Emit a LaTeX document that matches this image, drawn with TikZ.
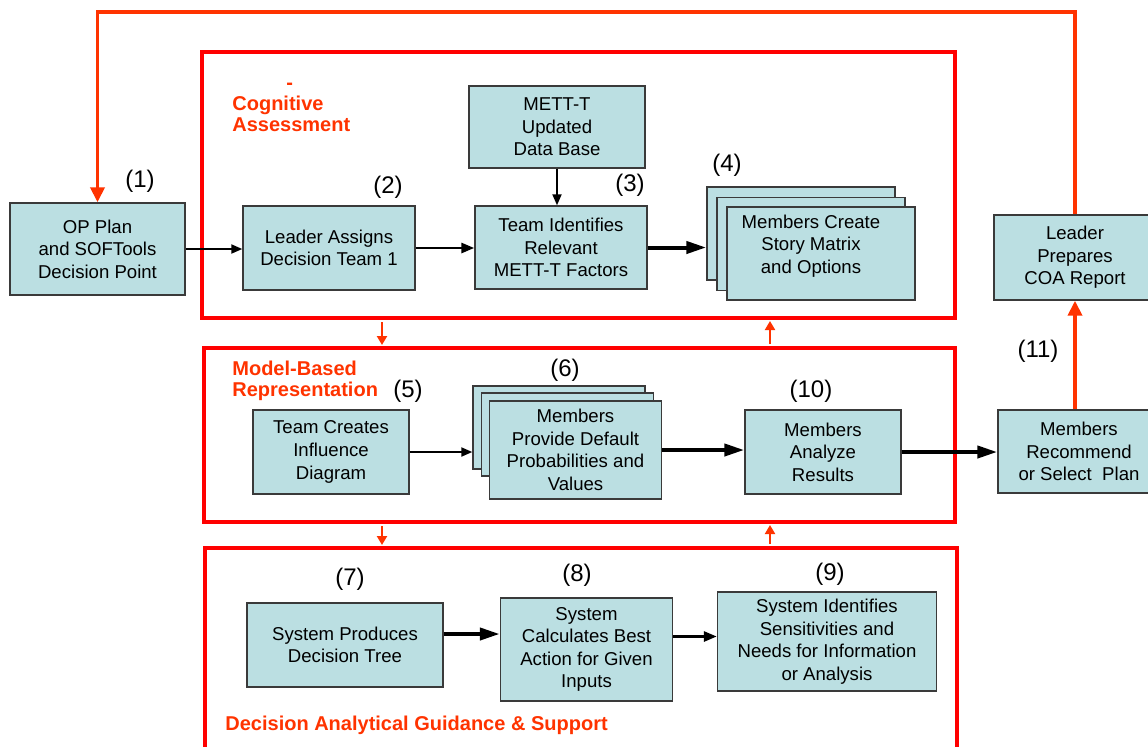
\documentclass[tikz,border=0pt]{standalone}
\usepackage{fontspec}
\setmainfont{Liberation Sans}
\usepackage{xcolor}
\usetikzlibrary{
  arrows.meta,
  positioning,
  calc
}
\definecolor{boxfill}{HTML}{BBDFE2}
\definecolor{boxline}{HTML}{3A3A3A}
\definecolor{framered}{HTML}{FF0000}
\definecolor{loopred}{HTML}{FF3300}
\tikzset{
  stepbox/.style={draw=boxline, line width=0.7pt, fill=boxfill,
    inner sep=0pt, align=center, font=\fontsize{9.3}{11.3}\selectfont},
  boxtext/.style={inner sep=0pt, align=center, font=\fontsize{9.3}{11.3}\selectfont},
  framebox/.style={draw=framered, line width=2pt, inner sep=0pt},
  numlabel/.style={inner sep=0pt, font=\fontsize{12}{14}\selectfont},
  phaselabel/.style={text=loopred, inner sep=0pt, align=left,
    font=\fontsize{10}{10.5}\selectfont\bfseries},
  arr/.style={-{Triangle[length=5.5pt,width=4.5pt]}, line width=1pt},
  marr/.style={-{Triangle[length=6.5pt,width=5pt]}, line width=1.4pt},
  tarr/.style={-{Triangle[length=10pt,width=6pt]}, line width=2pt},
  looparr/.style={-{Triangle[length=7.5pt,width=7pt]}, draw=loopred, line width=1.9pt},
  linkarr/.style={-{Triangle[length=4.5pt,width=5pt]}, draw=loopred, line width=1pt,
    shorten >=0.5pt, shorten <=1pt},
}

\begin{document}
\begin{tikzpicture}[x=0.5pt, y=-0.5pt]
  \useasboundingbox (0,0) rectangle (1148,746);
  \clip (0,0) rectangle (1148,746);

  % phase frames
  \node[framebox, minimum width=376.5pt, minimum height=133pt] (cogframe) at (578.5,185) {};
  \node[framebox, minimum width=375.5pt, minimum height=87pt] (modframe) at (579.5,435) {};
  \node[framebox, minimum width=376pt, minimum height=116pt] (dagframe) at (581,664) {};

  \node[phaselabel, anchor=south west] (cogtitle) at (232,132)
    {\hspace*{27pt}-\\Cognitive\\Assessment};
  \node[phaselabel, anchor=south west] (modtitle) at (232,401)
    {Model-Based\\Representation};
  \node[phaselabel, anchor=base west] (dagtitle) at (225,730)
    {Decision Analytical Guidance \& Support};

  % cognitive assessment
  \node[stepbox, minimum width=87.5pt, minimum height=46pt] (op) at (97.5,249)
    {OP Plan\\and SOFTools\\Decision Point};
  \node[stepbox, minimum width=86pt, minimum height=42pt] (assign) at (329,248)
    {Leader Assigns\\Decision Team 1};
  \node[stepbox, minimum width=88pt, minimum height=41pt] (mett) at (557,127)
    {METT-T\\Updated\\Data Base};
  \node[stepbox, minimum width=86pt, minimum height=41.5pt] (ident) at (561,247.5)
    {Team Identifies\\Relevant\\METT-T Factors};
  \node[stepbox, minimum width=94pt, minimum height=46.5pt] (createA) at (801,233.5) {};
  \node[stepbox, minimum width=94pt, minimum height=46.5pt] (createB) at (811,244) {};
  \node[stepbox, minimum width=94pt, minimum height=46.5pt] (createC) at (821,253.5) {};
  \node[boxtext] (createtxt) at ([yshift=-1pt]createB.center)
    {Members Create\\Story Matrix\\and Options};

  % model-based representation
  \node[stepbox, minimum width=78pt, minimum height=42pt] (teamcr) at (331,452)
    {Team Creates\\Influence\\Diagram};
  \node[stepbox, minimum width=86pt, minimum height=41.5pt] (provA) at (559,427.5) {};
  \node[stepbox, minimum width=86pt, minimum height=41.5pt] (provB) at (567.5,434.5) {};
  \node[stepbox, minimum width=86pt, minimum height=49pt] (provC) at (575.5,450)
    {Members\\Provide Default\\Probabilities and\\Values};
  \node[stepbox, minimum width=78pt, minimum height=42pt] (analyze) at (823,452)
    {Members\\Analyze\\Results};

  % outside the frames
  \node[stepbox, minimum width=81pt, minimum height=41.5pt] (recommend) at (1079,451.5)
    {Members\\Recommend\\or Select~ Plan};
  \node[stepbox, minimum width=81pt, minimum height=42.5pt] (prepare) at (1075,257.5)
    {Leader\\Prepares\\COA Report};

  % decision analytical guidance
  \node[stepbox, minimum width=98pt, minimum height=42pt] (produces) at (345,645)
    {System Produces\\Decision Tree};
  \node[stepbox, minimum width=86pt, minimum height=51.5pt] (calcbest) at (586.5,649.5)
    {System\\Calculates Best\\Action for Given\\Inputs};
  \node[stepbox, minimum width=109.5pt, minimum height=49.5pt] (sensit) at (827,641.5)
    {System Identifies\\Sensitivities and\\Needs for Information\\or Analysis};

  % step numbers
  \node[numlabel] (n1) at (140,181) {(1)};
  \node[numlabel] (n2) at (388,187) {(2)};
  \node[numlabel] (n3) at (630,185) {(3)};
  \node[numlabel] (n4) at (727,165) {(4)};
  \node[numlabel] (n5) at (408,391) {(5)};
  \node[numlabel] (n6) at (565,370) {(6)};
  \node[numlabel] (n10) at (811,391) {(10)};
  \node[numlabel] (n11) at (1038,351) {(11)};
  \node[numlabel] (n7) at (350,579) {(7)};
  \node[numlabel] (n8) at (577,575) {(8)};
  \node[numlabel] (n9) at (830,574) {(9)};

  % flow
  \draw[arr] (op.east) -- (op.east -| assign.west);
  \draw[marr] (assign.east) -- (assign.east -| ident.west);
  \draw[arr] (mett.south) -- (mett.south |- ident.north);
  \draw[tarr] (ident.east) -- (ident.east -| createA.west);
  \draw[arr] (teamcr.east) -- (teamcr.east -| provA.west);
  \draw[tarr] (provC.east) -- (provC.east -| analyze.west);
  \draw[tarr] (analyze.east) -- (analyze.east -| recommend.west);
  \coordinate (prodout) at ([yshift=5.5pt]produces.east);
  \coordinate (calcout) at ([yshift=6.5pt]calcbest.east);
  \draw[tarr] (prodout) -- (prodout -| calcbest.west);
  \draw[marr] (calcout) -- (calcout -| sensit.west);

  % links between frames
  \coordinate (linkL) at (382,0);
  \coordinate (linkR) at (770,0);
  \draw[linkarr] (cogframe.south -| linkL) -- (modframe.north -| linkL);
  \draw[linkarr] (modframe.north -| linkR) -- (cogframe.south -| linkR);
  \draw[linkarr] (modframe.south -| linkL) -- (dagframe.north -| linkL);
  \draw[linkarr] (dagframe.north -| linkR) -- (modframe.south -| linkR);

  % report and feedback loop
  \coordinate (looptop) at (0,12);
  \draw[looparr] (recommend.north -| prepare.south) -- (prepare.south);
  \draw[looparr] (prepare.north) -- (prepare.north |- looptop) -| (op.north);
\end{tikzpicture}
\end{document}
